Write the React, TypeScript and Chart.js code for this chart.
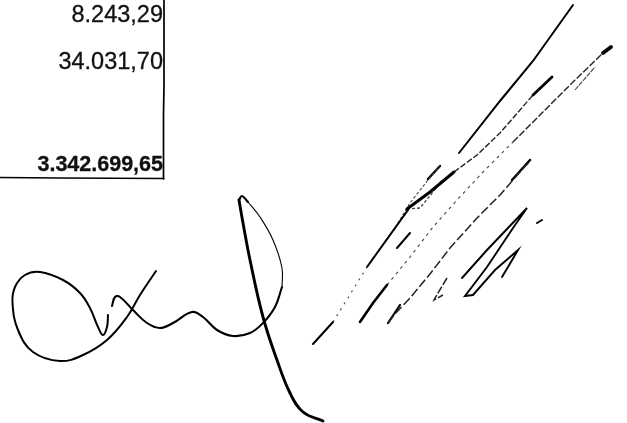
import React, { useEffect, useRef } from "react";
import { Chart, registerables } from "chart.js";

Chart.register(...registerables);

type P = { x: number; y: number };
const pts = (a: number[][]): P[] => a.map(([x, y]) => ({ x, y }));

const amountLabels = ["8.243,29", "34.031,70", "3.342.699,65"];
const amountRows = [22, 69, 171];

const ruleVertical = [[164, -2], [164, 84], [163.5, 115], [163.5, 179]];
const ruleHorizontal = [[0, 177.5], [60, 178], [164, 178.5]];

const loopStroke = [[108, 315], [107, 327], [103, 335], [98, 327], [90, 308], [80, 293], [63, 280], [40, 272], [25, 275], [15, 287], [12.5, 303], [18, 330], [33, 352], [60, 361], [83, 355], [107, 340], [127, 317], [140, 295], [156, 271]];
const waveStroke = [[112, 306], [115, 297], [120, 297], [133, 310], [147, 323], [160, 328], [173, 323], [192, 312], [203, 317], [217, 330], [233, 336], [250, 333], [263, 323], [275, 307], [282, 287]];
const waveThin = [[282, 287], [282, 268], [273, 240], [260, 217], [248, 202]];
const loopTop = [[248, 202], [242, 196], [239, 200]];
const longDown = [[239, 200], [243, 223], [250, 260], [263, 317], [277, 360], [290, 393], [303, 412], [323, 421]];

const slashA = [[313, 344], [333, 322]];
const slashADots = [[333, 322], [367, 267]];
const slashASolid = [[367, 267], [395, 228], [408, 210]];
const slashATop = [[459, 153], [500, 101], [533, 61], [573, 5]];
const slashB = [[407, 209], [430, 192], [454, 172]];
const slashBThin = [[454, 172], [477, 155], [500, 133], [533, 95]];
const slashBTop = [[533, 95], [552, 77]];
const slashC = [[360, 322], [373, 303], [387, 285]];
const slashCDots = [[387, 285], [410, 257], [433, 227], [457, 200], [483, 172], [513, 142]];
const slashCUpper = [[513, 142], [540, 115], [573, 82], [603, 53]];
const slashCTip = [[603, 53], [611, 47]];
const slashD = [[388, 323], [395, 314], [410, 298], [430, 274], [450, 248], [477, 218], [500, 195], [520, 172], [531, 160]];
const slashDFoot = [[388, 323], [400, 305]];
const slashDHead = [[512, 180], [530, 160]];
const hookE = [[447, 278], [435, 298], [434, 300], [443, 295]];
const zigzagF = [[462, 278], [487, 250], [527, 208], [513, 228], [487, 267], [465, 296], [473, 295], [495, 270], [518, 250], [508, 267], [502, 277]];
const shortG = [[397, 248], [410, 233]];
const tickH = [[537, 223], [542, 220]];
const shortI = [[575, 90], [595, 67]];
const scribbleJ = [[395, 228], [410, 203], [428, 180], [440, 166]];
const scribbleK = [[407, 209], [420, 208], [433, 192], [442, 180]];
const scribbleHead = [[428, 179], [440, 166]];

const solid = (data: number[][], width: number, tension = 0) => ({
  data: pts(data),
  showLine: true,
  borderColor: "#000",
  borderWidth: width,
  pointRadius: 0,
  tension,
  borderCapStyle: "round" as const,
});
const dotted = (data: number[][], width: number, dash: number[], color = "#444") => ({
  ...solid(data, width),
  borderColor: color,
  borderDash: dash,
  borderCapStyle: "butt" as const,
});

const textPlugin = {
  id: "amounts",
  afterDatasetsDraw(chart: Chart) {
    const { ctx, scales } = chart;
    ctx.save();
    ctx.fillStyle = "#111";
    ctx.strokeStyle = "#111";
    ctx.lineWidth = 0.3;
    ctx.textAlign = "right";
    ctx.textBaseline = "alphabetic";
    amountLabels.forEach((t, i) => {
      ctx.font = i === 2 ? 'bold 21.5px "Liberation Sans"' : '23.5px "Liberation Sans"';
      const x = scales.x.getPixelForValue(163);
      const y = scales.y.getPixelForValue(amountRows[i]);
      ctx.fillText(t, x, y);
      ctx.strokeText(t, x, y);
    });
    ctx.restore();
  },
};

export default function App() {
  const ref = useRef<HTMLCanvasElement>(null);
  useEffect(() => {
    const chart = new Chart(ref.current!, {
      type: "scatter",
      data: {
        datasets: [
          solid(ruleVertical, 1.7),
          solid(ruleHorizontal, 1.5),
          solid(loopStroke, 2, 0.4),
          solid(waveStroke, 2.1, 0.4),
          solid(waveThin, 1.1, 0.4),
          solid(loopTop, 2.2, 0.4),
          solid(longDown, 2.9, 0.4),
          solid(slashA, 2),
          dotted(slashADots, 1.1, [2, 5]),
          solid(slashASolid, 2.1),
          solid(slashATop, 2),
          solid(slashB, 3),
          dotted(slashBThin, 1.4, [6, 2], "#222"),
          solid(slashBTop, 2.8),
          solid(slashC, 2.6),
          dotted(slashCDots, 1.1, [3, 4]),
          dotted(slashCUpper, 1.4, [7, 2], "#222"),
          solid(slashCTip, 3.8),
          dotted(slashD, 1.5, [9, 3], "#222"),
          solid(slashDFoot, 2.2),
          solid(slashDHead, 2.4),
          dotted(hookE, 1.5, [8, 2], "#222"),
          solid(zigzagF, 1.9),
          solid(shortG, 2),
          solid(tickH, 2),
          dotted(shortI, 1.1, [5, 1]),
          dotted(scribbleJ, 1.1, [3, 2]),
          dotted(scribbleK, 1.3, [3, 2]),
          solid(scribbleHead, 2.4),
        ],
      },
      options: {
        animation: false,
        responsive: false,
        devicePixelRatio: 1,
        layout: { padding: 0 },
        plugins: { legend: { display: false }, tooltip: { enabled: false } },
        scales: {
          x: { type: "linear", min: 0, max: 627, display: false },
          y: { type: "linear", min: 0, max: 423, reverse: true, display: false },
        },
      },
      plugins: [textPlugin],
    });
    return () => chart.destroy();
  }, []);
  return (
    <div style={{ position: "absolute", left: 0, top: 0, width: 627, height: 423, background: "#fff" }}>
      <canvas ref={ref} width={627} height={423} style={{ display: "block" }} />
    </div>
  );
}
